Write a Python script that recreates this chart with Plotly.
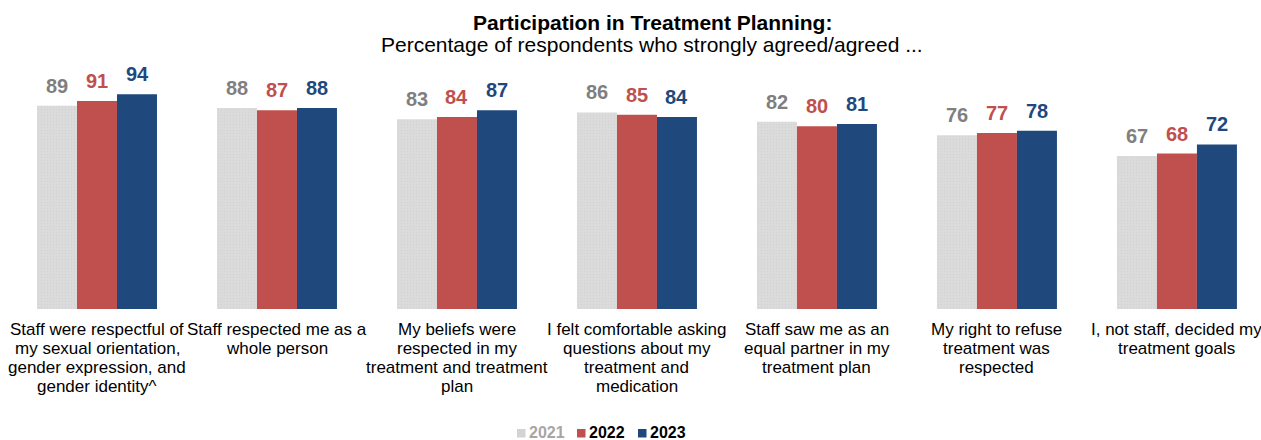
import plotly.graph_objects as go

# Survey items (line breaks as drawn under each group)
categories = [
    "Staff were respectful of<br>my sexual orientation,<br>gender expression, and<br>gender identity^",
    "Staff respected me as a<br>whole person",
    "My beliefs were<br>respected in my<br>treatment and treatment<br>plan",
    "I felt comfortable asking<br>questions about my<br>treatment and<br>medication",
    "Staff saw me as an<br>equal partner in my<br>treatment plan",
    "My right to refuse<br>treatment was<br>respected",
    "I, not staff, decided my<br>treatment goals",
]
years = ["2021", "2022", "2023"]
pct_2021 = [89, 88, 83, 86, 82, 76, 67]
pct_2022 = [91, 87, 84, 85, 80, 77, 68]
pct_2023 = [94, 88, 87, 84, 81, 78, 72]

title = "Participation in Treatment Planning:"
subtitle = "Percentage of respondents who strongly agreed/agreed ..."

series = [pct_2021, pct_2022, pct_2023]
bar_colors = ["#d9d9d9", "#c0504d", "#1f497d"]
label_colors = ["#7f7f7f", "#c0504d", "#1f497d"]
legend_text_colors = ["#a6a6a6", "#000000", "#000000"]

FONT = "Liberation Sans, Arial, sans-serif"

# figure geometry (pixels)
W, H = 1261, 440
ML, MR, MT, MB = 7, 0, 60, 131
PW, PH = W - ML - MR, H - MT - MB


def px_to_paper(px, py):
    return (px - ML) / PW, (H - MB - py) / PH


x = list(range(len(categories)))

fig = go.Figure()
for k in range(3):
    marker = dict(color=bar_colors[k], line=dict(width=0))
    if k == 0:
        # light stippled fill for the 2021 bars
        marker["pattern"] = dict(shape=".", fgcolor="#cacaca", bgcolor="#dbdbdb",
                                 size=3, solidity=0.15)
    fig.add_trace(go.Bar(
        x=x, y=series[k], name=years[k], marker=marker,
        hoverinfo="skip", showlegend=False,
    ))

annotations = []
shapes = []

# value labels above each bar
offsets = [-40, 0, 40]
for k in range(3):
    for i, v in enumerate(series[k]):
        annotations.append(dict(
            x=i, y=v, xref="x", yref="y", text=f"<b>{v}</b>",
            showarrow=False, xshift=offsets[k], yshift=20, yanchor="middle",
            font=dict(family=FONT, size=20, color=label_colors[k]),
        ))

# category captions under each group, one line at a time
for i, lab in enumerate(categories):
    for j, line in enumerate(lab.split("<br>")):
        annotations.append(dict(
            x=i, y=0, xref="x", yref="y", text=line, showarrow=False,
            yanchor="middle", yshift=-(20 + 19 * j),
            font=dict(family=FONT, size=17, color="#000000"),
        ))

# title lines
tx, ty = px_to_paper(652, 22)
annotations.append(dict(
    x=tx, y=ty, xref="paper", yref="paper", xanchor="center", yanchor="middle",
    text=f"<b>{title}</b>", showarrow=False,
    font=dict(family=FONT, size=21, color="#000000"),
))
sx, sy = px_to_paper(652, 44)
annotations.append(dict(
    x=sx, y=sy, xref="paper", yref="paper", xanchor="center", yanchor="middle",
    text=subtitle, showarrow=False,
    font=dict(family=FONT, size=21, color="#000000"),
))

# legend: small squares followed by bold year labels
legend_sq_left = [517, 577, 638]
legend_txt_left = [527, 587, 648]
for k in range(3):
    x0, y0 = px_to_paper(legend_sq_left[k], 437.5)
    x1, y1 = px_to_paper(legend_sq_left[k] + 8.5, 429)
    sq = dict(type="rect", xref="paper", yref="paper", x0=x0, x1=x1, y0=y0, y1=y1,
              line=dict(width=0), fillcolor=bar_colors[k] if k else "#d3d3d3",
              layer="above")
    shapes.append(sq)
    lx, ly = px_to_paper(legend_txt_left[k], 432.5)
    annotations.append(dict(
        x=lx, y=ly, xref="paper", yref="paper", xanchor="left", yanchor="middle",
        text=f"<b>{years[k]}</b>", showarrow=False,
        font=dict(family=FONT, size=16, color=legend_text_colors[k]),
    ))

fig.update_layout(
    width=W, height=H,
    margin=dict(l=ML, r=MR, t=MT, b=MB),
    paper_bgcolor="white", plot_bgcolor="white",
    barmode="group", bargap=1 / 3, bargroupgap=0,
    annotations=annotations, shapes=shapes,
    showlegend=False,
    xaxis=dict(range=[-0.5, 6.467], showticklabels=False, showgrid=False,
               zeroline=False, showline=False, fixedrange=True),
    yaxis=dict(range=[0, PH / 2.285], visible=False, fixedrange=True),
)

fig.write_html("out.html")
